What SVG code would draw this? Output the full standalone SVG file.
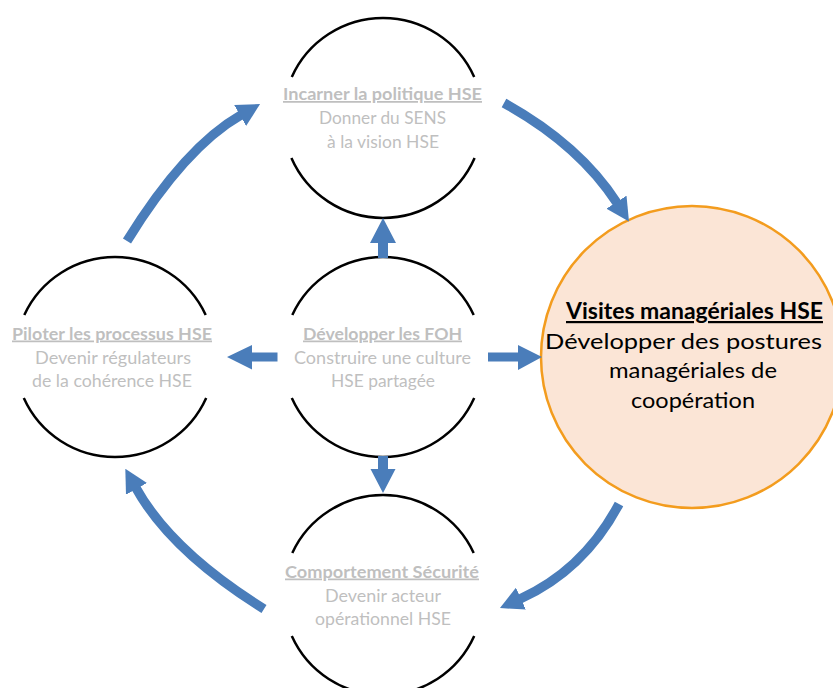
<svg xmlns="http://www.w3.org/2000/svg" width="833" height="688" viewBox="0 0 833 688">
<style>
.ring{fill:none;stroke:#000;stroke-width:2.5}
.t{font-family:Lato,"Open Sans","Noto Sans",sans-serif;text-anchor:middle}
.g{fill:#BFBFBF;font-size:17.5px}
.b{font-weight:700;text-decoration:underline}
.r{fill:#000;font-size:22px}
.flow{fill:none;stroke:#4A7DBA;stroke-width:9.5;marker-end:url(#ah)}
.blk{fill:#4A7DBA}
</style>
<defs>
<marker id="ah" markerUnits="userSpaceOnUse" viewBox="0 0 23 24" refX="1" refY="12" markerWidth="23" markerHeight="24" orient="auto">
<path d="M0,0 L23,12 L0,24 z" fill="#4A7DBA"/>
</marker>
</defs>
<rect width="833" height="688" fill="#fff"/>

<g id="n-visites">
<circle cx="692" cy="357" r="151" fill="#FBE5D6" stroke="#F39C1E" stroke-width="2.5"/>
<text class="t r b" x="694.5" y="319" textLength="257" lengthAdjust="spacingAndGlyphs">Visites managériales HSE</text>
<text class="t r" x="683.5" y="348.5" textLength="277" lengthAdjust="spacingAndGlyphs">Développer des postures</text>
<text class="t r" x="693" y="378" textLength="168" lengthAdjust="spacingAndGlyphs">managériales de</text>
<text class="t r" x="693" y="407.5" textLength="124" lengthAdjust="spacingAndGlyphs">coopération</text>
</g>

<g id="n-incarner">
<path class="ring" d="M291.8,77 A100,100 0 0 1 474.2,77 M291.4,158 A100,100 0 0 0 474.6,158"/>
<text class="t g b" x="382.5" y="100" textLength="199" lengthAdjust="spacingAndGlyphs">Incarner la politique HSE</text>
<text class="t g" x="382.5" y="124" textLength="127" lengthAdjust="spacingAndGlyphs">Donner du SENS</text>
<text class="t g" x="383" y="148" textLength="112" lengthAdjust="spacingAndGlyphs">à la vision HSE</text>
</g>

<g id="n-piloter">
<path class="ring" d="M24.3,315 A100,100 0 0 1 205.7,315 M23.8,398 A100,100 0 0 0 206.2,398"/>
<text class="t g b" x="112" y="339.5" textLength="200" lengthAdjust="spacingAndGlyphs">Piloter les processus HSE</text>
<text class="t g" x="113" y="363.5" textLength="156" lengthAdjust="spacingAndGlyphs">Devenir régulateurs</text>
<text class="t g" x="112" y="387" textLength="160" lengthAdjust="spacingAndGlyphs">de la cohérence HSE</text>
</g>

<g id="n-foh">
<path class="ring" d="M292.3,315 A100,100 0 0 1 473.7,315 M291.8,398 A100,100 0 0 0 474.2,398"/>
<text class="t g b" x="382.5" y="339.5" textLength="159" lengthAdjust="spacingAndGlyphs">Développer les FOH</text>
<text class="t g" x="382.5" y="363.5" textLength="177" lengthAdjust="spacingAndGlyphs">Construire une culture</text>
<text class="t g" x="383" y="387" textLength="104" lengthAdjust="spacingAndGlyphs">HSE partagée</text>
</g>

<g id="n-comportement">
<path class="ring" d="M292.3,553 A100,100 0 0 1 473.7,553 M291.8,636 A100,100 0 0 0 474.2,636"/>
<text class="t g b" x="382" y="577.5" textLength="194" lengthAdjust="spacingAndGlyphs">Comportement Sécurité</text>
<text class="t g" x="383" y="601.5" textLength="116" lengthAdjust="spacingAndGlyphs">Devenir acteur</text>
<text class="t g" x="383" y="625" textLength="136" lengthAdjust="spacingAndGlyphs">opérationnel HSE</text>
</g>

<g id="connectors">
<polygon class="blk" points="378,258 388,258 388,243 396,243 383,218 370,243 378,243"/>
<polygon class="blk" points="378,456 388,456 388,469 395.5,469 383,493 370.5,469 378,469"/>
<polygon class="blk" points="277.5,352.5 277.5,361.5 252,361.5 252,369.5 227,357 252,345 252,352.5"/>
<polygon class="blk" points="488,352.5 488,361.5 518,361.5 518,370 542,357 518,345 518,352.5"/>
<path class="flow" d="M127,241 Q185,147 241,115"/>
<path class="flow" d="M504,103 Q579,144.5 617,203"/>
<path class="flow" d="M619,504 Q584,570 520,599"/>
<path class="flow" d="M264,609 Q171,551 136,488"/>
</g>
</svg>
